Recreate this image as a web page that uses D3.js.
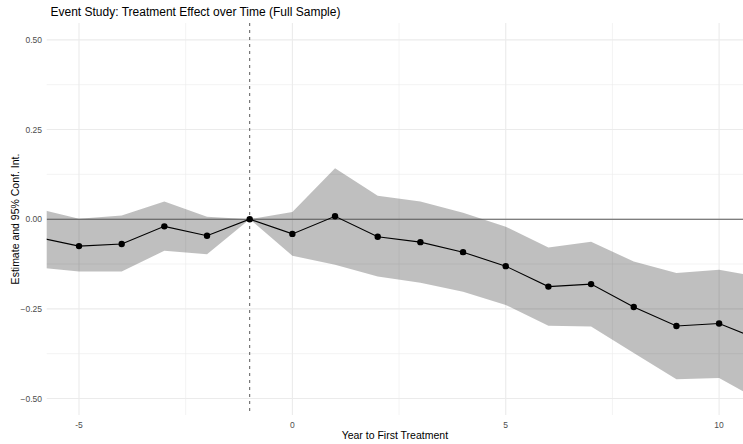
<!DOCTYPE html>
<html>
<head>
<meta charset="utf-8">
<script src="https://cdn.jsdelivr.net/npm/d3@7"></script>
<style>
  body { margin: 0; background: #fff; }
  text { font-family: "Liberation Sans", Arial, sans-serif; }
</style>
</head>
<body>
<script>
// event study data
var years    = [-6, -5, -4, -3, -2, -1, 0, 1, 2, 3, 4, 5, 6, 7, 8, 9, 10, 11];
var estimate = [-0.050, -0.075, -0.069, -0.020, -0.046, 0, -0.041, 0.008, -0.049, -0.064, -0.092, -0.131, -0.188, -0.181, -0.245, -0.298, -0.291, -0.339];
var upper    = [0.030, 0.001, 0.010, 0.049, 0.007, 0, 0.020, 0.142, 0.065, 0.049, 0.018, -0.021, -0.079, -0.063, -0.118, -0.150, -0.141, -0.162];
var lower    = [-0.134, -0.146, -0.146, -0.088, -0.098, 0, -0.102, -0.127, -0.160, -0.177, -0.202, -0.239, -0.297, -0.299, -0.373, -0.446, -0.443, -0.509];
var xTicks = [-5, 0, 5, 10];
var xMinor = [-2.5, 2.5, 7.5];
var yTicks = [-0.5, -0.25, 0, 0.25, 0.5];
var yMinor = [-0.375, -0.125, 0.125, 0.375];

var width = 743, height = 444;
var panel = {left: 46.7, top: 23, right: 743, bottom: 415};

var data = years.map(function(y, i) {
  return {year: y, est: estimate[i], hi: upper[i], lo: lower[i]};
});

var x = d3.scaleLinear().domain([-5.757, 10.56]).range([panel.left, panel.right]);
var y = d3.scaleLinear().domain([-0.546, 0.547]).range([panel.bottom, panel.top]);

var svg = d3.select('body').append('svg')
  .attr('width', width)
  .attr('height', height);

svg.append('defs').append('clipPath').attr('id', 'clip')
  .append('rect')
  .attr('x', panel.left).attr('y', panel.top)
  .attr('width', panel.right - panel.left)
  .attr('height', panel.bottom - panel.top);

// grid
var grid = svg.append('g');
grid.selectAll('.vminor').data(xMinor).enter().append('line')
  .attr('x1', x).attr('x2', x)
  .attr('y1', panel.top).attr('y2', panel.bottom)
  .attr('stroke', '#ebebeb').attr('stroke-width', 0.6);
grid.selectAll('.hminor').data(yMinor).enter().append('line')
  .attr('y1', y).attr('y2', y)
  .attr('x1', panel.left).attr('x2', panel.right)
  .attr('stroke', '#ebebeb').attr('stroke-width', 0.6);
grid.selectAll('.vmajor').data(xTicks).enter().append('line')
  .attr('x1', x).attr('x2', x)
  .attr('y1', panel.top).attr('y2', panel.bottom)
  .attr('stroke', '#ebebeb').attr('stroke-width', 1.1);
grid.selectAll('.hmajor').data(yTicks).enter().append('line')
  .attr('y1', y).attr('y2', y)
  .attr('x1', panel.left).attr('x2', panel.right)
  .attr('stroke', '#ebebeb').attr('stroke-width', 1.1);

var plot = svg.append('g').attr('clip-path', 'url(#clip)');

// confidence band
var area = d3.area()
  .x(function(d) { return x(d.year); })
  .y0(function(d) { return y(d.lo); })
  .y1(function(d) { return y(d.hi); });

plot.append('path')
  .datum(data)
  .attr('d', area)
  .attr('fill', '#000')
  .attr('fill-opacity', 0.25);

// reference lines
plot.append('line')
  .attr('x1', panel.left).attr('x2', panel.right)
  .attr('y1', y(0)).attr('y2', y(0))
  .attr('stroke', '#595959').attr('stroke-width', 1.1);

plot.append('line')
  .attr('x1', x(-1)).attr('x2', x(-1))
  .attr('y1', panel.top).attr('y2', panel.bottom)
  .attr('stroke', '#595959').attr('stroke-width', 1)
  .attr('stroke-dasharray', '3,4');

// estimates
var line = d3.line()
  .x(function(d) { return x(d.year); })
  .y(function(d) { return y(d.est); });

plot.append('path')
  .datum(data)
  .attr('d', line)
  .attr('fill', 'none')
  .attr('stroke', '#000')
  .attr('stroke-width', 1.1);

plot.selectAll('circle')
  .data(data)
  .enter()
  .append('circle')
  .attr('cx', function(d) { return x(d.year); })
  .attr('cy', function(d) { return y(d.est); })
  .attr('r', 3.2)
  .attr('fill', '#000');

// tick labels
svg.selectAll('.xlab').data(xTicks).enter().append('text')
  .attr('x', x)
  .attr('y', 428)
  .attr('text-anchor', 'middle')
  .attr('font-size', 8.5)
  .attr('fill', '#4d4d4d')
  .text(function(d) { return d; });

svg.selectAll('.ylab').data(yTicks).enter().append('text')
  .attr('x', 42)
  .attr('y', function(d) { return y(d) + 3; })
  .attr('text-anchor', 'end')
  .attr('font-size', 8.5)
  .attr('fill', '#4d4d4d')
  .text(function(d) { return d3.format('.2f')(d); });

// titles
svg.append('text')
  .attr('x', 50.5)
  .attr('y', 15.5)
  .attr('font-size', 12)
  .attr('fill', '#000')
  .text('Event Study: Treatment Effect over Time (Full Sample)');

svg.append('text')
  .attr('x', (panel.left + panel.right) / 2)
  .attr('y', 439)
  .attr('text-anchor', 'middle')
  .attr('font-size', 10.5)
  .attr('fill', '#000')
  .text('Year to First Treatment');

svg.append('text')
  .attr('transform', 'translate(19,' + ((panel.top + panel.bottom) / 2) + ') rotate(-90)')
  .attr('text-anchor', 'middle')
  .attr('font-size', 10.5)
  .attr('fill', '#000')
  .text('Estimate and 95% Conf. Int.');
</script>
</body>
</html>
